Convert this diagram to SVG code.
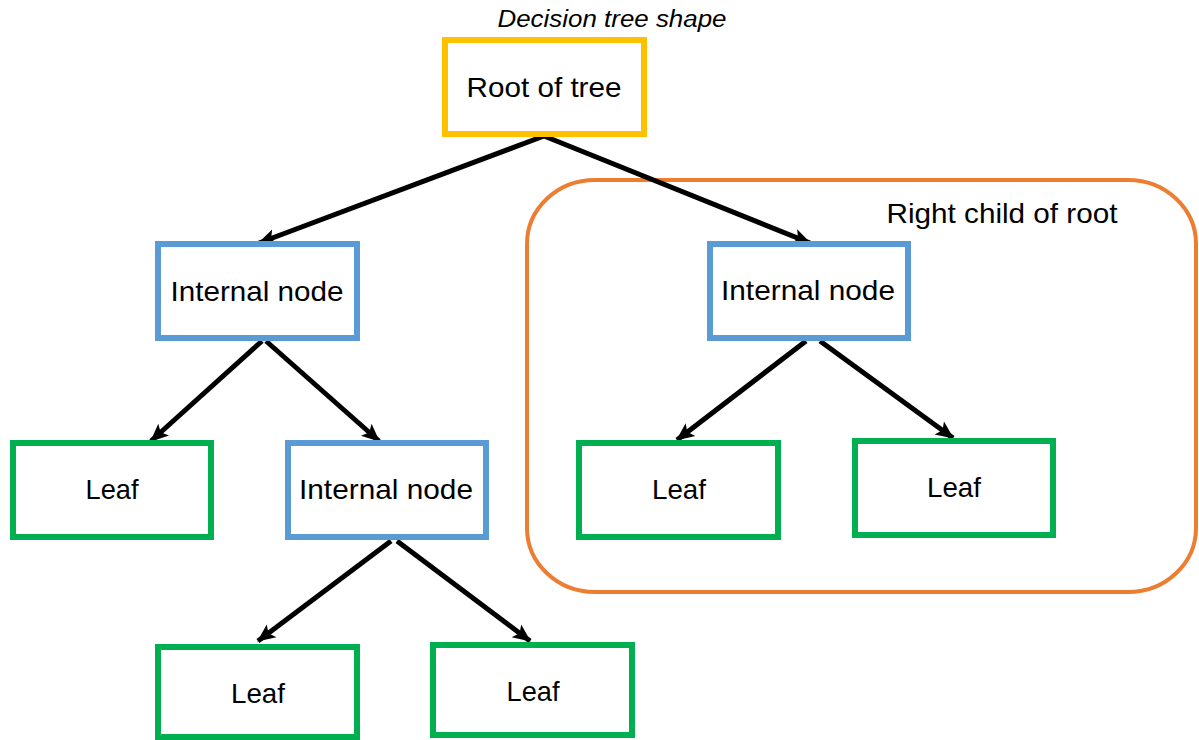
<svg xmlns="http://www.w3.org/2000/svg" width="1199" height="740" viewBox="0 0 1199 740">
  <style>
    .lbl { font-family: "Liberation Sans", Arial, sans-serif; font-size: 28px; fill: #000; text-anchor: middle; }
    .title { font-family: "Liberation Sans", Arial, sans-serif; font-size: 23px; font-style: italic; fill: #000; text-anchor: middle; }
    .box { fill: #fff; stroke-width: 6; }
    .root { stroke: #FFC000; }
    .internal { stroke: #5B9BD5; }
    .leaf { stroke: #00B050; }
    .edge { stroke: #000; stroke-width: 5; fill: none; marker-end: url(#arrow); }
  </style>
  <defs>
    <marker id="arrow" markerUnits="userSpaceOnUse" markerWidth="18" markerHeight="18" viewBox="0 0 18 18" refX="17" refY="9" orient="auto">
      <path d="M0,1 L18,9 L0,17 L4,9 Z" fill="#000"/>
    </marker>
  </defs>
  <rect width="1199" height="740" fill="#fff"/>

  <text class="title" x="612" y="27" textLength="229" lengthAdjust="spacingAndGlyphs">Decision tree shape</text>

  <g id="subtree-group">
    <rect x="527" y="180" width="669" height="412" rx="68" ry="64" fill="none" stroke="#ED7D31" stroke-width="4"/>
    <text class="lbl" x="1002" y="223" textLength="231" lengthAdjust="spacingAndGlyphs">Right child of root</text>
  </g>

  <g id="connectors">
    <line class="edge" x1="544" y1="136" x2="259" y2="243"/>
    <line class="edge" x1="544" y1="136" x2="810" y2="243"/>
    <line class="edge" x1="262" y1="341" x2="151" y2="441"/>
    <line class="edge" x1="266" y1="341" x2="379" y2="441"/>
    <line class="edge" x1="391" y1="541" x2="258" y2="641"/>
    <line class="edge" x1="397" y1="541" x2="530" y2="641"/>
    <line class="edge" x1="806" y1="341" x2="677" y2="440"/>
    <line class="edge" x1="820" y1="341" x2="953" y2="438"/>
  </g>

  <g id="root">
    <rect class="box root" x="445" y="40" width="199" height="94"/>
    <text class="lbl" x="544" y="97" textLength="155" lengthAdjust="spacingAndGlyphs">Root of tree</text>
  </g>

  <g id="internal-left">
    <rect class="box internal" x="158" y="244" width="199" height="94"/>
    <text class="lbl" x="257" y="301" textLength="173" lengthAdjust="spacingAndGlyphs">Internal node</text>
  </g>

  <g id="internal-right">
    <rect class="box internal" x="710" y="244" width="198" height="94"/>
    <text class="lbl" x="808" y="300" textLength="174" lengthAdjust="spacingAndGlyphs">Internal node</text>
  </g>

  <g id="leaf-left">
    <rect class="box leaf" x="13" y="443" width="198" height="94"/>
    <text class="lbl" x="112" y="499" textLength="53" lengthAdjust="spacingAndGlyphs">Leaf</text>
  </g>

  <g id="internal-mid">
    <rect class="box internal" x="288" y="443" width="198" height="94"/>
    <text class="lbl" x="386" y="499" textLength="174" lengthAdjust="spacingAndGlyphs">Internal node</text>
  </g>

  <g id="leaf-right-1">
    <rect class="box leaf" x="579" y="443" width="199" height="94"/>
    <text class="lbl" x="679" y="499" textLength="54" lengthAdjust="spacingAndGlyphs">Leaf</text>
  </g>

  <g id="leaf-right-2">
    <rect class="box leaf" x="855" y="441" width="198" height="94"/>
    <text class="lbl" x="954" y="497" textLength="54" lengthAdjust="spacingAndGlyphs">Leaf</text>
  </g>

  <g id="leaf-bottom-1">
    <rect class="box leaf" x="158" y="647" width="199" height="90"/>
    <text class="lbl" x="258" y="703" textLength="54" lengthAdjust="spacingAndGlyphs">Leaf</text>
  </g>

  <g id="leaf-bottom-2">
    <rect class="box leaf" x="433" y="645" width="199" height="90"/>
    <text class="lbl" x="533" y="701" textLength="53" lengthAdjust="spacingAndGlyphs">Leaf</text>
  </g>
</svg>
